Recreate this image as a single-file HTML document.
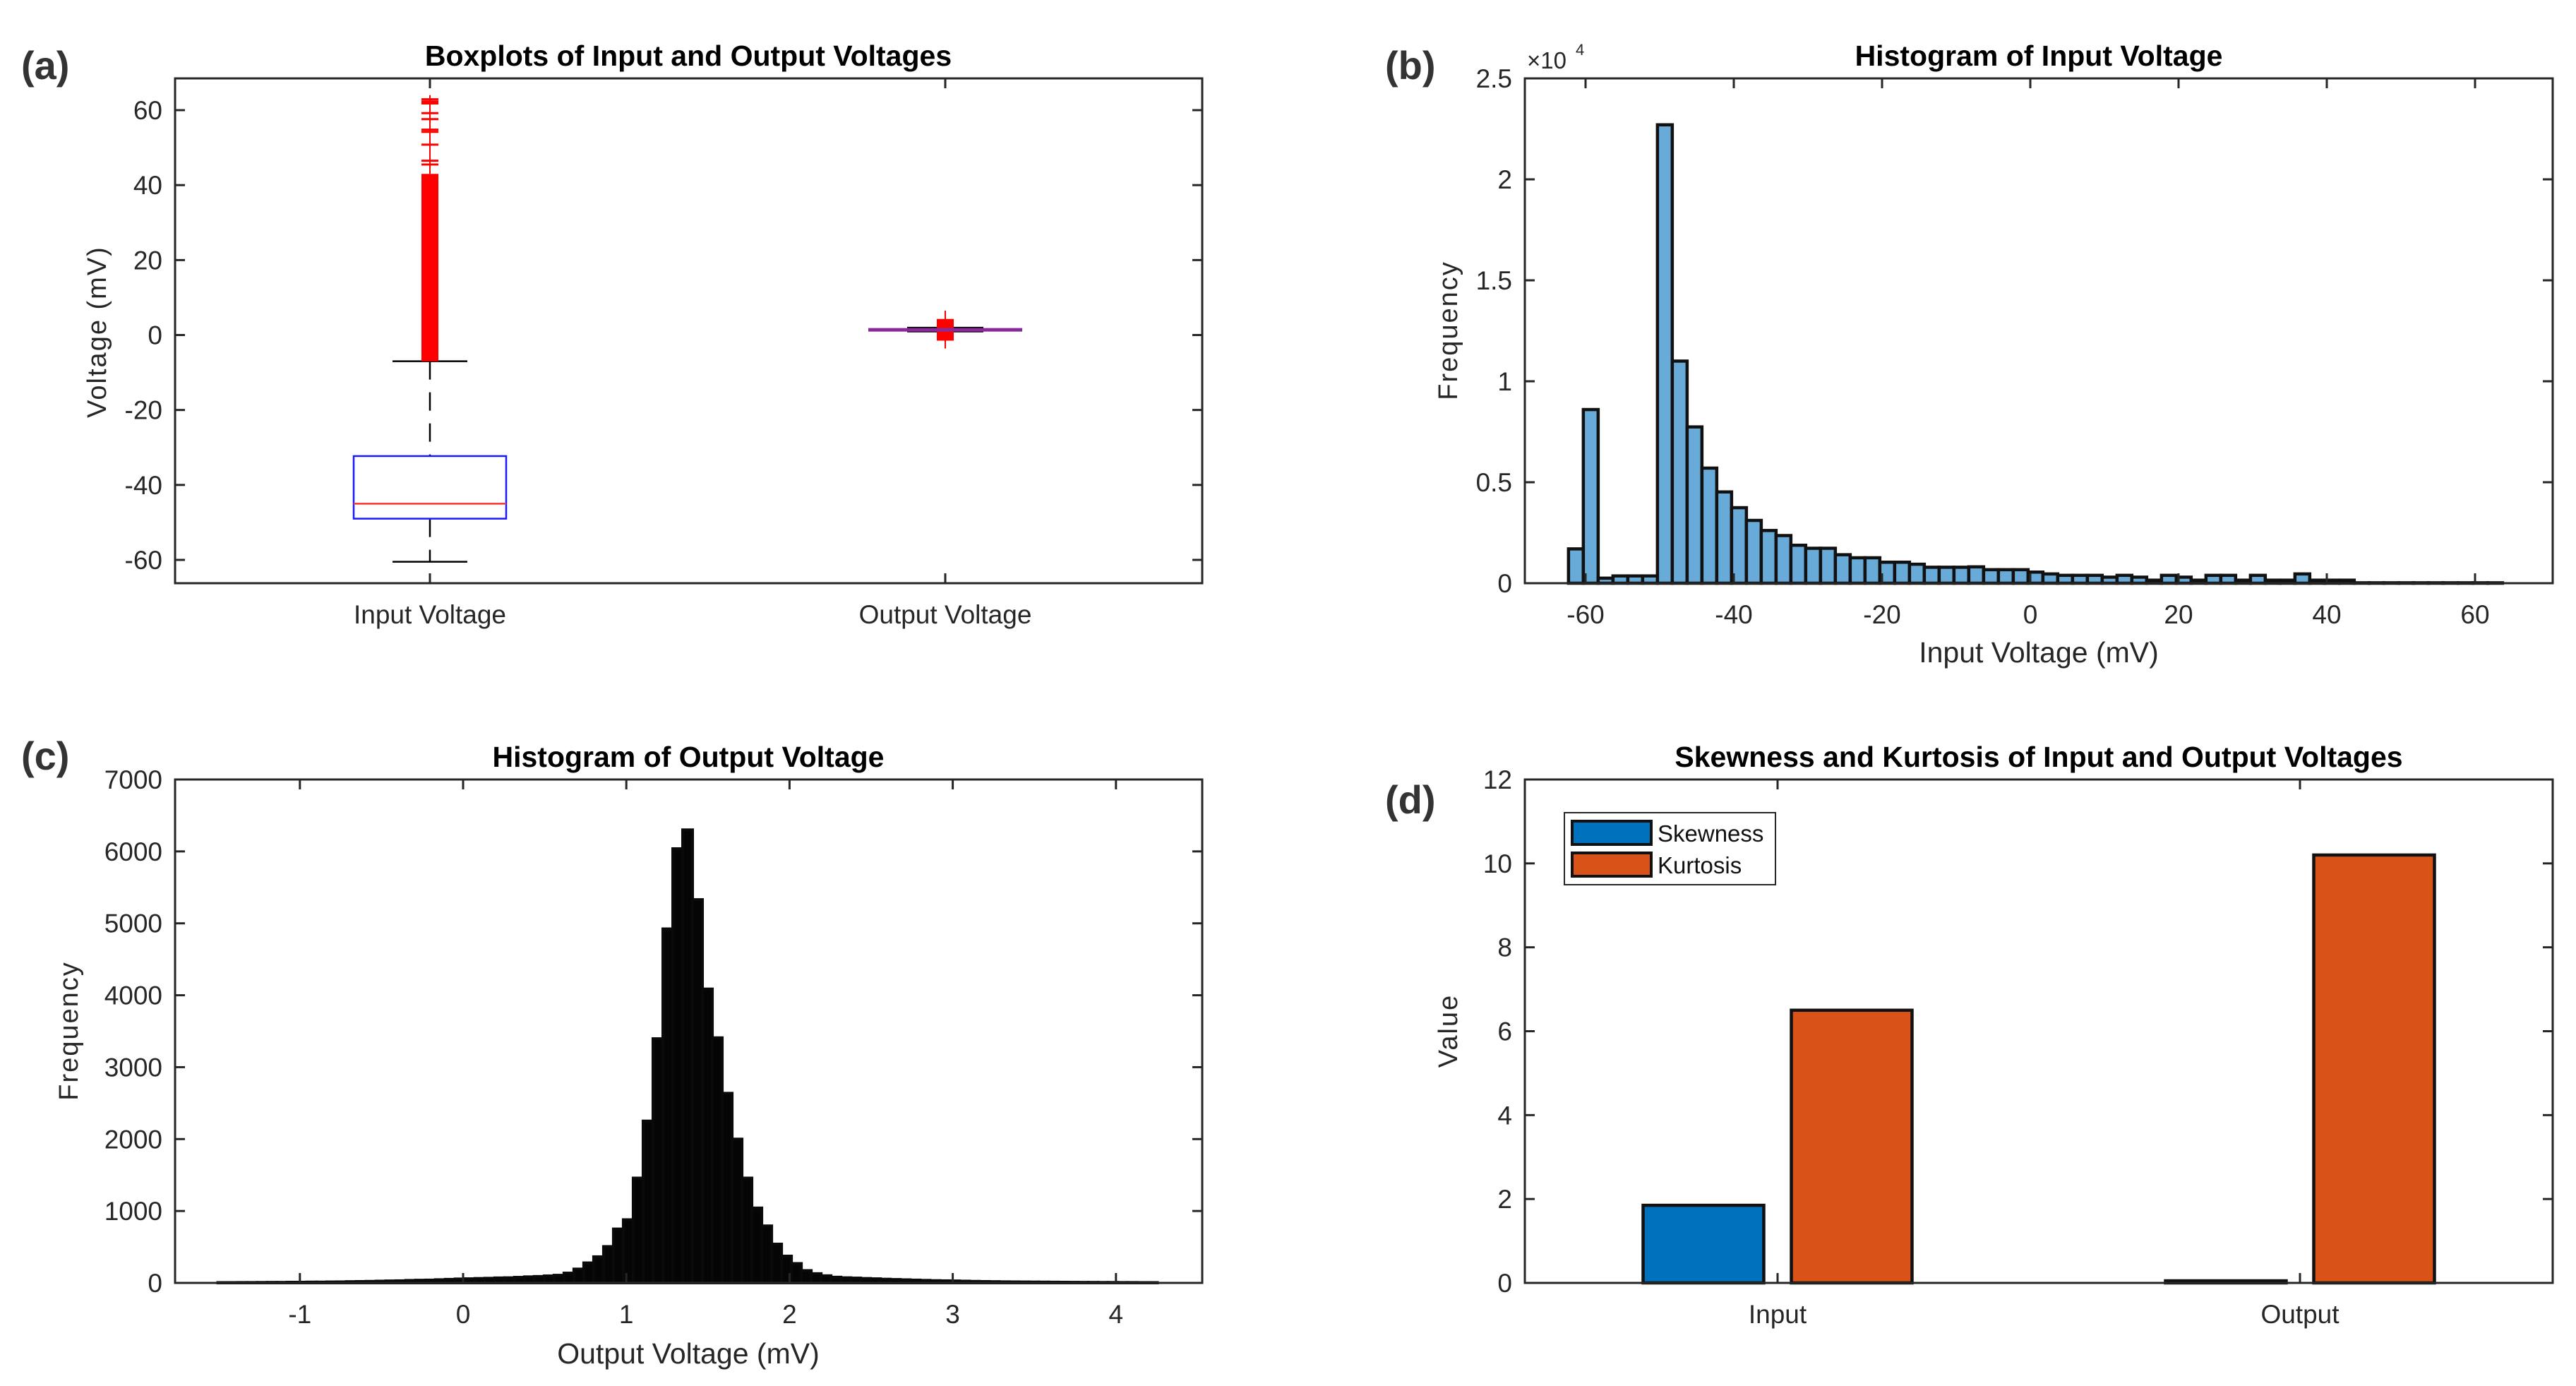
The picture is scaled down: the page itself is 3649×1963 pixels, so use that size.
<!DOCTYPE html>
<html><head><meta charset="utf-8"><style>
html,body{margin:0;padding:0;background:#fff;}
svg{display:block;font-family:"Liberation Sans",Arial,sans-serif;}
</style></head><body>
<svg id="fig" width="3649" height="1963" viewBox="0 0 3649 1963" xmlns="http://www.w3.org/2000/svg"></svg>
<script>
// ---------- DATA ----------
// Panel (a) boxplot stats
const boxCategories = ["Input Voltage", "Output Voltage"];
const boxQ1 = [-49, 0.9];
const boxQ3 = [-32.3, 2.0];
const boxMedian = [-45, 1.4];
const boxWhiskerLow = [-60.5, 1.2];
const boxWhiskerHigh = [-7, 1.6];
const inputOutlierBandLow = -7;
const inputOutlierBandHigh = 43;
const inputOutlierMarks = [45.5, 46.5, 50.8, 54.2, 54.8, 57.6, 59.2, 61.8, 62.3, 62.9];
const outputOutlierBandLow = -1.5;
const outputOutlierBandHigh = 4.3;
const outputOutlierMin = -3.6;
const outputOutlierMax = 6.5;
const boxYTicks = [-60, -40, -20, 0, 20, 40, 60];

// Panel (b) histogram of input voltage
const inBinStart = -62.3;
const inBinWidth = 2.0;
const inCounts = [1700, 8600, 250, 360, 360, 360, 22700, 11000, 7740, 5700, 4520, 3740, 3110, 2610, 2360, 1880,
  1730, 1730, 1410, 1260, 1260, 1040, 1040, 940, 790, 790, 790, 810, 670, 670, 670, 550, 460, 390, 390, 390,
  300, 390, 300, 150, 390, 300, 150, 390, 390, 150, 390, 150, 150, 460, 150, 150, 150,
  20, 20, 20, 20, 20, 20, 20, 20, 20, 20];
const inXTicks = [-60, -40, -20, 0, 20, 40, 60];
const inYTicks = [0, 5000, 10000, 15000, 20000, 25000];
const inYTickLabels = ["0", "0.5", "1", "1.5", "2", "2.5"];

// Panel (c) histogram of output voltage
const outBinStart = -1.503;
const outBinWidth = 0.0606;
const outCounts = [5, 5, 6, 6, 7, 8, 8, 10, 10, 12, 12, 14, 15, 18, 20, 22, 25, 28, 30, 35,
  38, 40, 45, 50, 55, 58, 62, 65, 70, 72, 78, 85, 90, 98, 107, 137, 193, 279, 364, 506,
  750, 879, 1458, 2251, 3396, 4923, 6038, 6300, 5330, 4087, 3409, 2637, 2000, 1458, 1042, 793, 540, 373, 270, 172,
  129, 100, 80, 72, 68, 62, 58, 52, 48, 44, 40, 36, 32, 30, 28, 25, 22, 20, 18, 16,
  15, 14, 13, 12, 11, 10, 9, 8, 8, 7, 7, 6, 6, 5, 5];
const outXTicks = [-1, 0, 1, 2, 3, 4];
const outYTicks = [0, 1000, 2000, 3000, 4000, 5000, 6000, 7000];

// Panel (d) skewness and kurtosis
const statCategories = ["Input", "Output"];
const skewnessValues = [1.85, 0.05];
const kurtosisValues = [6.5, 10.2];
const statYTicks = [0, 2, 4, 6, 8, 10, 12];

// ---------- HELPERS ----------
const NS = "http://www.w3.org/2000/svg";
const svg = document.getElementById("fig");
function mk(tag, attrs, parent, text) {
  const e = document.createElementNS(NS, tag);
  for (const k in attrs) e.setAttribute(k, attrs[k]);
  if (text !== undefined) e.textContent = text;
  (parent || svg).appendChild(e);
  return e;
}
const AX = "#262626";
const TICKFS = 37;
function frame(g, L, R, T, B) {
  const r = mk("rect", {x: L, y: T, width: R - L, height: B - T, fill: "none", stroke: AX, "stroke-width": 3}, g);
  
  
}
function yTick(g, L, R, y, label) {
  mk("line", {x1: L, y1: y, x2: L + 14, y2: y, stroke: AX, "stroke-width": 3}, g);
  mk("line", {x1: R, y1: y, x2: R - 14, y2: y, stroke: AX, "stroke-width": 3}, g);
  const t = mk("text", {x: L - 18, y: y + 13, "text-anchor": "end", "font-size": TICKFS, fill: AX}, g, label);
  
  
}
function xTick(g, T, B, x, label) {
  mk("line", {x1: x, y1: B, x2: x, y2: B - 14, stroke: AX, "stroke-width": 3}, g);
  mk("line", {x1: x, y1: T, x2: x, y2: T + 14, stroke: AX, "stroke-width": 3}, g);
  const t = mk("text", {x: x, y: B + 57, "text-anchor": "middle", "font-size": TICKFS, fill: AX}, g, label);
  
  
}
function title(g, x, y, s) {
  const t = mk("text", {x: x, y: y, "text-anchor": "middle", "font-size": 41, "font-weight": "bold", fill: "#000"}, g, s);
  
  
}
function panelLabel(g, x, y, s) {
  const t = mk("text", {x: x, y: y, "font-size": 56, "font-weight": "bold", fill: "#333"}, g, s);
  
  
}
function yLabel(g, x, cy, s) {
  const t = mk("text", {x: 0, y: 0, transform: "translate(" + x + "," + cy + ") rotate(-90)", "text-anchor": "middle", "font-size": 38, "letter-spacing": "2", fill: AX}, g, s);
  
  
}
function xLabel(g, x, y, s) {
  const t = mk("text", {x: x, y: y, "text-anchor": "middle", "font-size": 41, fill: AX}, g, s);
  
  
}

// ---------- PANEL A ----------
(function () {
  const L = 248, R = 1703, T = 111, B = 826;
  const y = v => 474.5 - v * 5.308;
  const catX = [609, 1339];
  const g = mk("g", {});
  
  
  panelLabel(g, 30, 112, "(a)");
  title(g, 975, 93, "Boxplots of Input and Output Voltages");
  yLabel(g, 150, 470, "Voltage (mV)");
  const cx = catX[0];
  const w = mk("line", {x1: cx, y1: y(boxWhiskerHigh[0]), x2: cx, y2: y(boxQ3[0]), stroke: "#000", "stroke-width": 2.5, "stroke-dasharray": "26,18"}, g);
  
  
  const w2 = mk("line", {x1: cx, y1: y(boxQ1[0]), x2: cx, y2: y(boxWhiskerLow[0]), stroke: "#000", "stroke-width": 2.5, "stroke-dasharray": "26,18"}, g);
  
  
  [boxWhiskerHigh[0], boxWhiskerLow[0]].forEach(v => {
    const c = mk("line", {x1: cx - 53, y1: y(v), x2: cx + 53, y2: y(v), stroke: "#000", "stroke-width": 2.5}, g);
    
    
  });
  const bx = mk("rect", {x: cx - 108, y: y(boxQ3[0]), width: 216, height: y(boxQ1[0]) - y(boxQ3[0]), fill: "none", stroke: "#1a1aff", "stroke-width": 2.5}, g);
  
  
  const md = mk("line", {x1: cx - 108, y1: y(boxMedian[0]), x2: cx + 108, y2: y(boxMedian[0]), stroke: "#ff3030", "stroke-width": 2.5}, g);
  
  
  const ob = mk("rect", {x: cx - 12, y: y(inputOutlierBandHigh), width: 24, height: y(inputOutlierBandLow) - y(inputOutlierBandHigh), fill: "#ff0000"}, g);
  
  
  mk("line", {x1: cx, y1: y(64), x2: cx, y2: y(inputOutlierBandHigh), stroke: "#ff0000", "stroke-width": 2}, g);
  inputOutlierMarks.forEach(v => {
    const m = mk("line", {x1: cx - 12, y1: y(v), x2: cx + 12, y2: y(v), stroke: "#ff0000", "stroke-width": 3}, g);
    
    
  });
  const ox = catX[1];
  mk("line", {x1: ox, y1: y(outputOutlierMax), x2: ox, y2: y(outputOutlierMin), stroke: "#ff0000", "stroke-width": 2}, g);
  const ob2 = mk("rect", {x: ox - 53, y: y(boxQ3[1]), width: 106, height: y(boxQ1[1]) - y(boxQ3[1]), fill: "#1a1a2e", stroke: "#000", "stroke-width": 2}, g);
  
  
  const ob3 = mk("rect", {x: ox - 12, y: y(outputOutlierBandHigh), width: 24, height: y(outputOutlierBandLow) - y(outputOutlierBandHigh), fill: "#ff0000"}, g);
  
  
  const ml = mk("line", {x1: ox - 109, y1: y(boxMedian[1]), x2: ox + 109, y2: y(boxMedian[1]), stroke: "#8a2a9a", "stroke-width": 5}, g);
  
  
  frame(g, L, R, T, B);
  boxYTicks.forEach(v => yTick(g, L, R, y(v), String(v)));
  boxCategories.forEach((c, i) => xTick(g, T, B, catX[i], c));
})();

// ---------- PANEL B ----------
(function () {
  const L = 2160, R = 3616, T = 111, B = 826;
  const x = v => 2876 + v * 10.5;
  const y = v => B - v / 25000 * 715;
  const g = mk("g", {});
  
  
  panelLabel(g, 1962, 112, "(b)");
  title(g, 2888, 93, "Histogram of Input Voltage");
  yLabel(g, 2064, 468, "Frequency");
  xLabel(g, 2888, 938, "Input Voltage (mV)");
  const ex = mk("text", {x: 2163, y: 97, "font-size": 33, fill: AX}, g, "\u00d710");
  
  
  mk("text", {x: 2232, y: 78, "font-size": 22, fill: AX}, g, "4");
  inCounts.forEach((c, k) => {
    const x0 = x(inBinStart + k * inBinWidth), x1 = x(inBinStart + (k + 1) * inBinWidth);
    const r = mk("rect", {x: x0, y: y(c), width: x1 - x0, height: y(0) - y(c), fill: "#68abd9", stroke: "#111", "stroke-width": 4.5}, g);
    
    
  });
  frame(g, L, R, T, B);
  inYTicks.forEach((v, i) => yTick(g, L, R, y(v), inYTickLabels[i]));
  inXTicks.forEach(v => xTick(g, T, B, x(v), String(v)));
})();

// ---------- PANEL C ----------
(function () {
  const L = 248, R = 1703, T = 1104, B = 1817;
  const x = v => 656 + v * 231.2;
  const y = v => B - v / 7000 * 713;
  const g = mk("g", {});
  
  
  panelLabel(g, 30, 1090, "(c)");
  title(g, 975, 1086, "Histogram of Output Voltage");
  yLabel(g, 110, 1460, "Frequency");
  xLabel(g, 975, 1931, "Output Voltage (mV)");
  outCounts.forEach((c, k) => {
    const x0 = x(outBinStart + k * outBinWidth), x1 = x(outBinStart + (k + 1) * outBinWidth);
    const r = mk("rect", {x: x0, y: y(c), width: x1 - x0, height: y(0) - y(c), fill: "#050505", stroke: "#0a0a0a", "stroke-width": 4}, g);
    
    
  });
  frame(g, L, R, T, B);
  outYTicks.forEach(v => yTick(g, L, R, y(v), String(v)));
  outXTicks.forEach(v => xTick(g, T, B, x(v), String(v)));
})();

// ---------- PANEL D ----------
(function () {
  const L = 2160, R = 3616, T = 1104, B = 1817;
  const y = v => B - v / 12 * 713;
  const catX = [2518, 3258];
  const off = 105, bw = 171;
  const g = mk("g", {});
  
  
  panelLabel(g, 1962, 1152, "(d)");
  title(g, 2888, 1086, "Skewness and Kurtosis of Input and Output Voltages");
  yLabel(g, 2064, 1460, "Value");
  statCategories.forEach((c, i) => {
    const s = mk("rect", {x: catX[i] - off - bw / 2, y: y(skewnessValues[i]), width: bw, height: y(0) - y(skewnessValues[i]), fill: "#0072bd", stroke: "#111", "stroke-width": 4.5}, g);
    
    
    const k = mk("rect", {x: catX[i] + off - bw / 2, y: y(kurtosisValues[i]), width: bw, height: y(0) - y(kurtosisValues[i]), fill: "#d95319", stroke: "#111", "stroke-width": 4.5}, g);
    
    
  });
  frame(g, L, R, T, B);
  statYTicks.forEach(v => yTick(g, L, R, y(v), String(v)));
  statCategories.forEach((c, i) => xTick(g, T, B, catX[i], c));
  const lg = mk("g", {}, g);
  
  
  mk("rect", {x: 2216, y: 1151, width: 299, height: 102, fill: "#fff", stroke: AX, "stroke-width": 2}, lg);
  const e1 = mk("rect", {x: 2227, y: 1163, width: 112, height: 33, fill: "#0072bd", stroke: "#111", "stroke-width": 4}, lg);
  
  
  const t1 = mk("text", {x: 2348, y: 1192, "font-size": 33, fill: "#111"}, lg, "Skewness");
  
  
  const e2 = mk("rect", {x: 2227, y: 1208, width: 112, height: 33, fill: "#d95319", stroke: "#111", "stroke-width": 4}, lg);
  
  
  const t2 = mk("text", {x: 2348, y: 1237, "font-size": 33, fill: "#111"}, lg, "Kurtosis");
  
  
})();
</script>
</body></html>
